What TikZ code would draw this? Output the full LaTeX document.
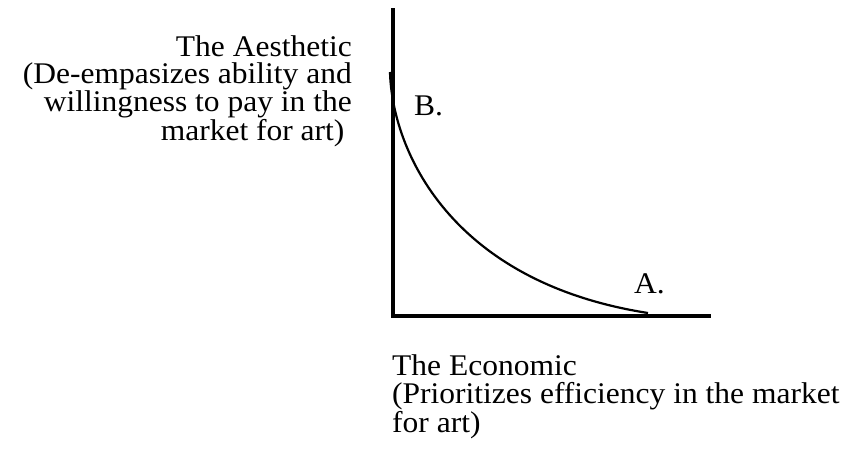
\documentclass[tikz,border=0pt]{standalone}
\usepackage{fontspec}
\setmainfont{Liberation Serif}
\begin{document}
\begin{tikzpicture}[x=1pt,y=-1pt,
  axis/.style={line width=3.5pt},
  curv/.style={line width=2.2pt},
  lbl/.style={inner sep=0pt,font=\fontsize{30}{27.5}\selectfont,xscale=1.05},
  lblr/.style={lbl,anchor=base east,align=right},
  lbll/.style={lbl,anchor=base west,align=left}]
\useasboundingbox (0,0) rectangle (849,456);
\coordinate (top) at (393,8);
\coordinate (origin) at (393,316);
\coordinate (right) at (711,316);
\coordinate (cB) at (390,72);
\coordinate (cA) at (648,313);
\draw[axis] (top) -- (origin) -- (right);
\draw[curv] (cB) .. controls (392,150) and (450,282) .. (cA);
\node[lblr] (aes) at (352,140) {The Aesthetic\\(De-empasizes ability and\\willingness to pay in the\hspace*{1pt}\\market for art)\hspace*{7pt}};
\node[lbll] (B) at (414,115) {B.};
\node[lbll] (A) at (634,293) {A.};
\node[lbll] (eco) at (392,432) {The Economic\\(Prioritizes efficiency in the market\\for art)};
\end{tikzpicture}
\end{document}
